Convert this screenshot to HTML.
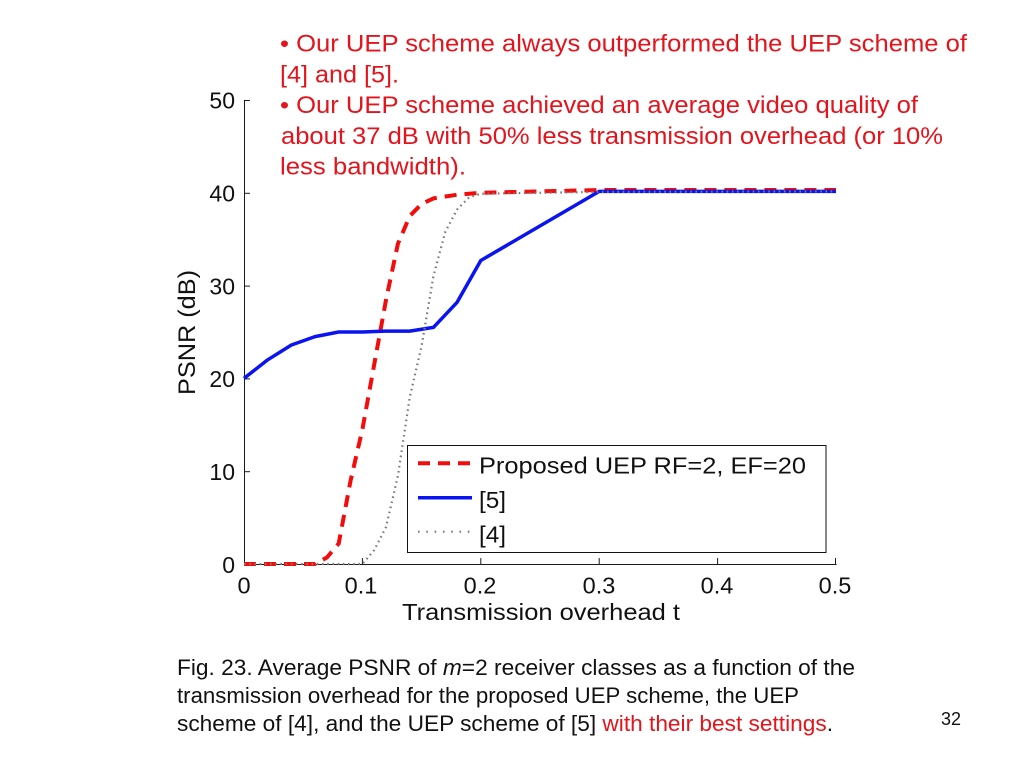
<!DOCTYPE html>
<html>
<head>
<meta charset="utf-8">
<style>
html,body{margin:0;padding:0;background:#fff;}
svg{display:block;}
text{font-family:"Liberation Sans",Arial,sans-serif;}
</style>
</head>
<body>
<svg width="1024" height="768" viewBox="0 0 1024 768" xmlns="http://www.w3.org/2000/svg">
<rect width="1024" height="768" fill="#fff"/>

<!-- axes -->
<g stroke="#1a1a1a" stroke-width="1" fill="none">
  <line x1="244.5" y1="100" x2="244.5" y2="564.5"/>
  <line x1="244" y1="564.5" x2="836.5" y2="564.5"/>
  <line x1="244" y1="100.5" x2="250" y2="100.5"/>
  <line x1="244" y1="193.3" x2="250" y2="193.3"/>
  <line x1="244" y1="286.1" x2="250" y2="286.1"/>
  <line x1="244" y1="378.9" x2="250" y2="378.9"/>
  <line x1="244" y1="471.7" x2="250" y2="471.7"/>
  <line x1="362.4" y1="564" x2="362.4" y2="558"/>
  <line x1="480.8" y1="564" x2="480.8" y2="558"/>
  <line x1="599.2" y1="564" x2="599.2" y2="558"/>
  <line x1="717.6" y1="564" x2="717.6" y2="558"/>
  <line x1="835.5" y1="564" x2="835.5" y2="558"/>
</g>

<g font-size="23" fill="#111" text-anchor="end">
  <text x="235" y="108.5">50</text>
  <text x="235" y="201.5">40</text>
  <text x="235" y="294.5">30</text>
  <text x="235" y="387">20</text>
  <text x="235" y="480">10</text>
  <text x="235" y="573">0</text>
</g>
<g font-size="23.5" fill="#111" text-anchor="middle">
  <text x="244" y="593.5">0</text>
  <text x="361" y="593.5">0.1</text>
  <text x="480" y="593.5">0.2</text>
  <text x="599" y="593.5">0.3</text>
  <text x="717" y="593.5">0.4</text>
  <text x="835" y="593.5">0.5</text>
</g>
<text x="402" y="620" font-size="23.5" fill="#111" textLength="278" lengthAdjust="spacingAndGlyphs">Transmission overhead t</text>
<text transform="translate(195,332.5) rotate(-90)" x="0" y="0" font-size="24" fill="#111" text-anchor="middle" textLength="125" lengthAdjust="spacingAndGlyphs">PSNR (dB)</text>

<!-- curves -->
<polyline fill="none" stroke="#f20c0c" stroke-width="4" stroke-dasharray="12 8" stroke-linejoin="round"
  points="244,564 315,564 326.9,557.5 338.7,543.6 350.6,480.5 362.4,429.4 374.2,364.5 386.1,299.5 397.9,243.8 409.8,216 421.6,203.9 433.4,198.4 457.1,194.7 480.8,192.8 599.2,190 836,190"/>
<polyline fill="none" stroke="#0a14f0" stroke-width="3.5" stroke-linejoin="round"
  points="244,378.4 267.7,359.8 291.4,345 315,336.6 338.7,332 362.4,332 386.1,331.1 409.8,331.1 433.4,327.4 457.1,302.3 480.8,260.5 599.2,191.4 836,191.4"/>
<polyline fill="none" stroke="#7a7a7a" stroke-width="2.2" stroke-dasharray="1.6 3.6"
  points="244,564 362.4,564 374.2,550.1 386.1,526.9 397.9,475.8 409.8,397 421.6,345.9 433.4,276.3 445.3,231.8 457.1,209.5 469,197.4 480.8,193.7 599.2,191.9 836,191.4"/>

<!-- legend -->
<rect x="407.5" y="445.5" width="418.5" height="107" fill="#fff" stroke="#111" stroke-width="1"/>
<line x1="418" y1="463.3" x2="472" y2="463.3" stroke="#f20c0c" stroke-width="4" stroke-dasharray="12 8"/>
<line x1="418" y1="497.7" x2="472" y2="497.7" stroke="#0a14f0" stroke-width="3.5"/>
<line x1="418" y1="531.7" x2="472" y2="531.7" stroke="#7a7a7a" stroke-width="2.2" stroke-dasharray="1.6 6.7"/>
<g font-size="23" fill="#111">
  <text x="479" y="473.3" textLength="327" lengthAdjust="spacingAndGlyphs">Proposed UEP RF=2, EF=20</text>
  <text x="479" y="508" textLength="27" lengthAdjust="spacingAndGlyphs">[5]</text>
  <text x="479" y="542.5" textLength="27" lengthAdjust="spacingAndGlyphs">[4]</text>
</g>

<g font-size="24" fill="#e3141c">
  <text x="280" y="51.5" textLength="687" lengthAdjust="spacingAndGlyphs">• Our UEP scheme always outperformed the UEP scheme of</text>
  <text x="280" y="82.3" textLength="119" lengthAdjust="spacingAndGlyphs">[4] and [5].</text>
  <text x="280" y="113" textLength="638" lengthAdjust="spacingAndGlyphs">• Our UEP scheme achieved an average video quality of</text>
  <text x="281" y="143.8" textLength="662" lengthAdjust="spacingAndGlyphs">about 37 dB with 50% less transmission overhead (or 10%</text>
  <text x="280" y="174.6" textLength="186" lengthAdjust="spacingAndGlyphs">less bandwidth).</text>
</g>

<g font-size="22.6" fill="#111">
  <text x="177" y="675" textLength="678" lengthAdjust="spacingAndGlyphs">Fig. 23. Average PSNR of <tspan font-style="italic">m</tspan>=2 receiver classes as a function of the</text>
  <text x="177" y="703" textLength="622" lengthAdjust="spacingAndGlyphs">transmission overhead for the proposed UEP scheme, the UEP</text>
  <text x="177" y="731" textLength="656" lengthAdjust="spacingAndGlyphs">scheme of [4], and the UEP scheme of [5] <tspan fill="#e3141c">with their best settings</tspan>.</text>
</g>
<text x="941" y="725" font-size="18" fill="#111">32</text>
</svg>
</body>
</html>
